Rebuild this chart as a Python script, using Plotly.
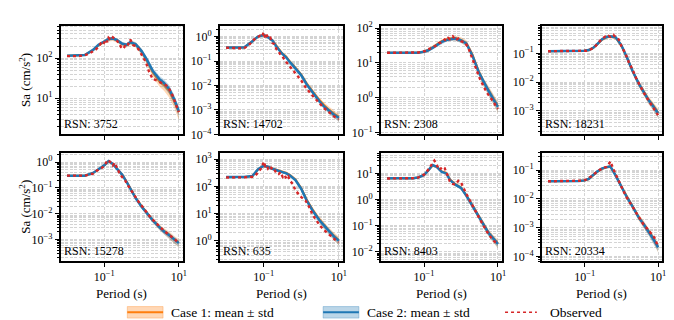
import plotly.graph_objects as go
from plotly.subplots import make_subplots

# periods (s) used by the simulated means, and by the observed spectra
periods = [0.01, 0.03, 0.05, 0.07, 0.1, 0.13, 0.17, 0.22, 0.3, 0.4, 0.5, 0.7, 1.0, 1.4, 2.0, 3.0, 4.0, 5.5, 7.5, 10.0]
periods_obs = [0.01, 0.02, 0.03, 0.04, 0.05, 0.06, 0.07, 0.08, 0.09, 0.1, 0.11, 0.12, 0.13, 0.15, 0.17, 0.19,
               0.22, 0.25, 0.28, 0.32, 0.36, 0.4, 0.45, 0.5, 0.6, 0.7, 0.85, 1.0, 1.3, 1.6, 2.0, 2.5, 3.2, 4.0,
               5.0, 6.5, 8.0, 10.0]

rsn = ['3752', '14702', '2308', '18231', '15278', '635', '8403', '20334']

# relative std of each case (std / mean) at the periods above
case1_rstd = [0.03, 0.03, 0.05, 0.08, 0.1, 0.12, 0.12, 0.12, 0.12, 0.12, 0.13, 0.15, 0.18, 0.2, 0.22, 0.25, 0.27, 0.3, 0.32, 0.35]
case2_rstd = [0.03, 0.03, 0.05, 0.07, 0.09, 0.1, 0.1, 0.1, 0.1, 0.1, 0.11, 0.13, 0.15, 0.17, 0.19, 0.21, 0.23, 0.25, 0.27, 0.3]

# RSN 3752
case1_3752 = [115, 120, 158, 210, 255, 295, 305, 275, 225, 210, 245, 215, 145, 85, 44, 26, 21, 15, 8.5, 4.5]
case2_3752 = [115, 120, 160, 215, 260, 300, 310, 280, 230, 215, 250, 220, 150, 90, 48, 30, 24, 17, 9.5, 4.8]
obs_3752 = [112, 112, 118, 130, 150, 165, 190, 230, 210, 260, 290, 250, 320, 280, 330, 300, 270, 230, 190, 170,
            200, 190, 230, 290, 210, 200, 160, 120, 80, 45, 30, 28, 25, 23, 20, 13, 8, 4.5]
# RSN 14702
case1_14702 = [0.36, 0.36, 0.64, 1.0, 1.15, 0.97, 0.72, 0.40, 0.22, 0.15, 0.095, 0.054, 0.028, 0.012, 0.0056, 0.0026, 0.0016, 0.001, 0.0007, 0.00052]
case2_14702 = [0.36, 0.36, 0.65, 1.0, 1.15, 0.95, 0.70, 0.38, 0.21, 0.14, 0.09, 0.05, 0.026, 0.011, 0.005, 0.0023, 0.0014, 0.0009, 0.00062, 0.00048]
obs_14702 = [0.35, 0.34, 0.33, 0.45, 0.62, 0.85, 0.95, 1.1, 1.0, 1.5, 0.9, 1.2, 0.85, 0.9, 0.55, 0.5, 0.3, 0.25, 0.18, 0.15,
             0.11, 0.09, 0.072, 0.06, 0.042, 0.032, 0.02, 0.016, 0.0085, 0.0055, 0.0038, 0.0026, 0.0017, 0.0012, 0.0009, 0.00065, 0.0005, 0.00042]
# RSN 2308
case1_2308 = [19.5, 19.5, 19.5, 19.7, 21, 23.5, 28, 34, 42, 47, 50, 52, 46, 37, 18, 5.8, 3.0, 1.7, 0.95, 0.57]
case2_2308 = [19.5, 19.5, 19.5, 19.7, 21, 23, 27, 33, 40, 45, 48, 50, 44, 36, 17, 5.5, 2.9, 1.6, 0.9, 0.55]
obs_2308 = [19.5, 19.5, 19.5, 19.5, 19.6, 19.8, 20, 20.5, 21, 21, 22, 23, 25, 26, 28, 30, 32, 37, 38, 42,
            47, 44, 52, 48, 58, 45, 50, 42, 38, 26, 14, 7, 3.6, 2.2, 1.4, 0.95, 0.7, 0.48]
# RSN 18231
case1_18231 = [0.118, 0.118, 0.118, 0.119, 0.122, 0.13, 0.153, 0.205, 0.3, 0.36, 0.38, 0.35, 0.185, 0.073, 0.025, 0.0088, 0.0047, 0.0025, 0.0015, 0.00088]
case2_18231 = [0.118, 0.118, 0.118, 0.119, 0.122, 0.13, 0.155, 0.21, 0.31, 0.37, 0.39, 0.36, 0.19, 0.075, 0.025, 0.0087, 0.0046, 0.0024, 0.0014, 0.00083]
obs_18231 = [0.118, 0.118, 0.118, 0.118, 0.118, 0.118, 0.119, 0.12, 0.12, 0.121, 0.123, 0.126, 0.13, 0.14, 0.15, 0.17, 0.21, 0.27, 0.3, 0.34,
             0.38, 0.36, 0.4, 0.37, 0.44, 0.36, 0.3, 0.18, 0.095, 0.048, 0.028, 0.014, 0.0075, 0.0045, 0.0028, 0.0017, 0.0012, 0.00072]
# RSN 15278
case1_15278 = [0.30, 0.30, 0.38, 0.52, 0.74, 1.08, 0.85, 0.56, 0.34, 0.175, 0.098, 0.042, 0.02, 0.0106, 0.0058, 0.0032, 0.0022, 0.0016, 0.00105, 0.00078]
case2_15278 = [0.30, 0.30, 0.38, 0.52, 0.75, 1.1, 0.85, 0.55, 0.33, 0.17, 0.095, 0.04, 0.019, 0.0102, 0.0056, 0.0031, 0.0021, 0.0015, 0.001, 0.00074]
obs_15278 = [0.3, 0.3, 0.3, 0.33, 0.36, 0.45, 0.5, 0.55, 0.62, 0.8, 0.9, 1.15, 1.2, 0.95, 0.75, 0.95, 0.55, 0.4, 0.3, 0.25,
             0.2, 0.15, 0.12, 0.09, 0.06, 0.042, 0.028, 0.021, 0.012, 0.0085, 0.006, 0.0042, 0.003, 0.0022, 0.0017, 0.0013, 0.001, 0.00072]
# RSN 635
case1_635 = [220, 220, 235, 410, 560, 520, 450, 390, 350, 310, 260, 180, 85, 32, 14, 6.2, 3.8, 2.3, 1.5, 1.05]
case2_635 = [220, 220, 240, 420, 570, 520, 440, 380, 340, 300, 250, 170, 80, 30, 13, 5.8, 3.6, 2.2, 1.4, 1.0]
obs_635 = [210, 210, 210, 215, 225, 250, 320, 430, 500, 800, 550, 600, 450, 550, 400, 420, 300, 280, 330, 220,
           260, 190, 230, 160, 120, 70, 50, 40, 30, 18, 9, 5.5, 3.5, 2.5, 1.9, 1.4, 1.1, 0.9]
# RSN 8403
case1_8403 = [6.5, 6.5, 6.6, 7.0, 8.8, 13, 20, 18, 12, 10.5, 6, 3.9, 2.9, 1.45, 0.63, 0.25, 0.125, 0.056, 0.033, 0.021]
case2_8403 = [6.5, 6.5, 6.6, 7.0, 8.7, 13, 21, 18, 11.5, 10, 5.7, 3.7, 2.8, 1.4, 0.6, 0.24, 0.12, 0.054, 0.032, 0.02]
obs_8403 = [6.4, 6.4, 6.4, 6.4, 6.5, 6.6, 7.0, 7.5, 8.2, 9, 10, 12, 14, 19, 26, 31, 22, 14, 15, 18,
            16, 11, 7, 5, 4, 3.7, 5.2, 4.5, 2.0, 1.1, 0.65, 0.35, 0.18, 0.1, 0.06, 0.035, 0.025, 0.02]
# RSN 20334
case1_20334 = [0.041, 0.041, 0.041, 0.042, 0.044, 0.05, 0.066, 0.088, 0.112, 0.128, 0.132, 0.066, 0.027, 0.012, 0.0057, 0.0023, 0.0014, 0.00078, 0.00042, 0.00022]
case2_20334 = [0.041, 0.041, 0.041, 0.042, 0.044, 0.05, 0.068, 0.09, 0.115, 0.13, 0.135, 0.064, 0.026, 0.0117, 0.0055, 0.0022, 0.00135, 0.00074, 0.0004, 0.00021]
obs_20334 = [0.041, 0.041, 0.041, 0.041, 0.041, 0.041, 0.042, 0.043, 0.044, 0.045, 0.047, 0.05, 0.055, 0.06, 0.07, 0.08, 0.09, 0.1, 0.11, 0.12,
             0.125, 0.13, 0.16, 0.2, 0.11, 0.07, 0.04, 0.026, 0.013, 0.0085, 0.0055, 0.0033, 0.0022, 0.0013, 0.00095, 0.0006, 0.00045, 0.00022]

case1 = [case1_3752, case1_14702, case1_2308, case1_18231, case1_15278, case1_635, case1_8403, case1_20334]
case2 = [case2_3752, case2_14702, case2_2308, case2_18231, case2_15278, case2_635, case2_8403, case2_20334]
obs = [obs_3752, obs_14702, obs_2308, obs_18231, obs_15278, obs_635, obs_8403, obs_20334]

# log10 y ranges of each panel
y_ranges = [[0.1, 2.81], [-4.0, 0.45], [-1.05, 2.07], [-3.81, -0.04],
            [-3.83, 0.37], [-0.75, 3.24], [-2.36, 1.80], [-4.16, -0.39]]

legend_names = ['Case 1: mean \u00b1 std', 'Case 2: mean \u00b1 std', 'Observed']

orange = '#ff7f0e'
blue = '#1f77b4'
red = '#d62728'
orange_fill = 'rgba(255,127,14,0.3)'
blue_fill = 'rgba(31,119,180,0.3)'
font = 'Liberation Serif, Times New Roman, serif'
grid = '#d4d4d4'
W, H = 674, 320

x_dom = [[0.0786, 0.2611], [0.316, 0.5], [0.5564, 0.7374], [0.7967, 0.9763]]
y_dom = [[0.606, 0.959], [0.194, 0.547]]


def sup(e):
    return '10<sup>' + str(e).replace('-', '\u2212') + '</sup>'


fig = make_subplots(rows=2, cols=4)

for i in range(8):
    r = i // 4 + 1
    c = i % 4 + 1
    for mean, rstd, col, fcol, w in [(case1[i], case1_rstd, orange, orange_fill, 2),
                                     (case2[i], case2_rstd, blue, blue_fill, 2.5)]:
        lo = [m * (1 - s) for m, s in zip(mean, rstd)]
        hi = [m * (1 + s) for m, s in zip(mean, rstd)]
        fig.add_trace(go.Scatter(x=periods, y=lo, mode='lines', line=dict(width=0),
                                 showlegend=False, hoverinfo='skip'), row=r, col=c)
        fig.add_trace(go.Scatter(x=periods, y=hi, mode='lines', line=dict(width=0), fill='tonexty',
                                 fillcolor=fcol, showlegend=False, hoverinfo='skip'), row=r, col=c)
        fig.add_trace(go.Scatter(x=periods, y=mean, mode='lines', line=dict(color=col, width=w),
                                 showlegend=False), row=r, col=c)
    fig.add_trace(go.Scatter(x=periods_obs, y=obs[i], mode='lines', line=dict(color=red, width=2.4, dash='dot'),
                             showlegend=False), row=r, col=c)

    lo_e, hi_e = y_ranges[i]
    decades = list(range(int(lo_e) - 1, int(hi_e) + 2))
    minor_vals = [k * 10.0 ** e for e in decades for k in range(2, 10)]
    fig.update_yaxes(type='log', range=y_ranges[i], domain=y_dom[r - 1],
                     tickvals=[10.0 ** e for e in decades], ticktext=[sup(e) for e in decades],
                     ticks='outside', ticklen=4, tickwidth=1, tickcolor='black',
                     showline=True, linecolor='black', linewidth=1.5, mirror=True,
                     showgrid=True, gridcolor=grid, griddash='3px,1.5px', gridwidth=0.8, zeroline=False,
                     minor=dict(tickvals=minor_vals, ticks='outside', ticklen=2, tickcolor='black',
                                showgrid=True, gridcolor=grid, griddash='3px,1.5px', gridwidth=0.8),
                     tickfont=dict(family=font, size=12, color='black'), row=r, col=c)
    fig.update_xaxes(type='log', range=[-2.17, 1.11], domain=x_dom[c - 1],
                     tickvals=[0.1, 10], ticktext=[sup(-1), sup(1)], showticklabels=(r == 2),
                     ticks='outside', ticklen=4, tickwidth=1, tickcolor='black',
                     showline=True, linecolor='black', linewidth=1.5, mirror=True,
                     showgrid=True, gridcolor=grid, griddash='3px,1.5px', gridwidth=0.8, zeroline=False,
                     tickfont=dict(family=font, size=12, color='black'), row=r, col=c)

    n = '' if i == 0 else str(i + 1)
    fig.add_annotation(text='RSN: ' + rsn[i], xref='x' + n + ' domain', yref='y' + n + ' domain',
                       x=0.01, y=0.01, xanchor='left', yanchor='bottom', showarrow=False,
                       font=dict(family=font, size=12, color='black'))

# axis titles
for yc in [(y_dom[0][0] + y_dom[0][1]) / 2, (y_dom[1][0] + y_dom[1][1]) / 2]:
    fig.add_annotation(text='Sa (cm/s<sup>2</sup>)', xref='paper', yref='paper', x=17 / W, y=yc,
                       textangle=-90, showarrow=False, xanchor='center', yanchor='middle',
                       font=dict(family=font, size=13, color='black'))
for xd in x_dom:
    fig.add_annotation(text='Period (s)', xref='paper', yref='paper', x=(xd[0] + xd[1]) / 2, y=1 - 291 / H,
                       showarrow=False, xanchor='center', yanchor='middle',
                       font=dict(family=font, size=13, color='black'))

# legend drawn below the panels: band patch + line, or dotted line, then the label
leg_y = 1 - 311 / H
leg_x = [120, 317, 500]
for k, name in enumerate(legend_names):
    x0 = leg_x[k] / W
    x1 = (leg_x[k] + (36 if k < 2 else 32)) / W
    if k < 2:
        col, fcol = [(orange, orange_fill), (blue, blue_fill)][k]
        fig.add_shape(type='rect', xref='paper', yref='paper', x0=x0, x1=x1,
                      y0=leg_y - 6 / H, y1=leg_y + 6 / H, fillcolor=fcol,
                      line=dict(color=fcol, width=1))
        fig.add_shape(type='line', xref='paper', yref='paper', x0=x0, x1=x1, y0=leg_y, y1=leg_y,
                      line=dict(color=col, width=2))
    else:
        fig.add_shape(type='line', xref='paper', yref='paper', x0=x0, x1=x1, y0=leg_y, y1=leg_y,
                      line=dict(color=red, width=1.5, dash='dot'))
    fig.add_annotation(text=name, xref='paper', yref='paper', x=(leg_x[k] + (42 if k < 2 else 43)) / W,
                       y=leg_y, xanchor='left', yanchor='middle', showarrow=False,
                       font=dict(family=font, size=13.5, color='black'))

fig.update_layout(width=W, height=H, margin=dict(l=0, r=0, t=0, b=0),
                  plot_bgcolor='white', paper_bgcolor='white', showlegend=False,
                  font=dict(family=font, size=12, color='black'))

fig.write_html("out.html")
